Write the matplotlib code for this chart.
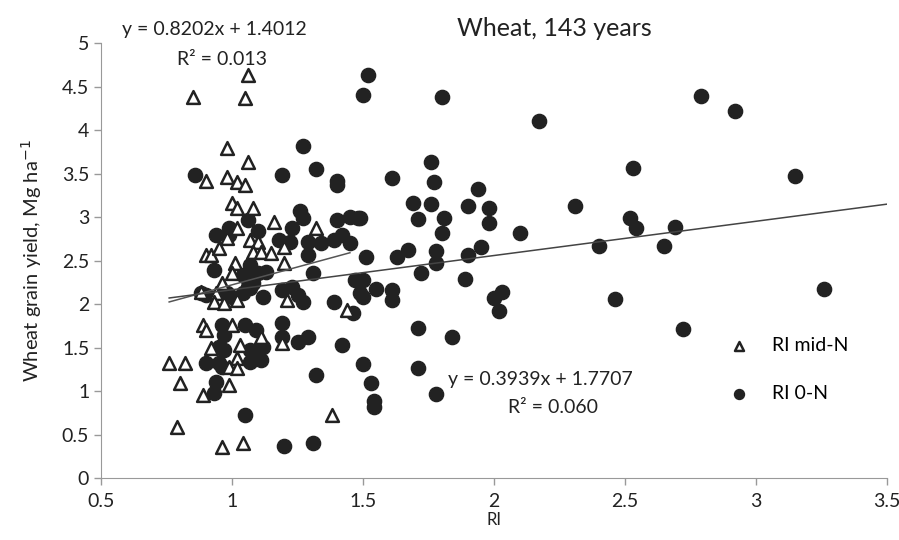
import matplotlib
matplotlib.use("Agg")
import matplotlib.pyplot as plt

plt.rcParams['font.family'] = ['Lato', 'DejaVu Sans']

# RI mid-N (open triangles)
mid_x = [1.06, 0.85, 1.05, 0.98, 1.06, 0.90, 0.98, 1.02, 1.05, 1.00, 1.02, 1.08,
         1.16, 1.02, 1.32, 0.98, 1.07, 1.10, 1.20, 0.90, 0.92, 0.95, 1.08, 1.11,
         1.15, 1.20, 1.01, 1.00, 0.96, 0.88, 0.94, 0.93, 0.97, 1.02, 1.21, 1.44,
         0.89, 0.90, 1.00, 0.92, 1.03, 1.11, 1.19, 0.76, 0.82, 1.02, 0.99, 1.02,
         0.80, 0.99, 0.89, 0.79, 0.96, 1.04, 1.38]
mid_y = [4.63, 4.38, 4.37, 3.80, 3.63, 3.41, 3.46, 3.40, 3.37, 3.16, 3.11, 3.11,
         2.94, 2.87, 2.87, 2.76, 2.74, 2.71, 2.66, 2.56, 2.56, 2.64, 2.60, 2.60,
         2.59, 2.47, 2.47, 2.36, 2.24, 2.14, 2.13, 2.02, 2.01, 2.05, 2.05, 1.93,
         1.76, 1.70, 1.76, 1.49, 1.53, 1.62, 1.55, 1.32, 1.32, 1.38, 1.28, 1.26,
         1.09, 1.07, 0.95, 0.59, 0.36, 0.40, 0.72]

# RI 0-N (filled circles)
zero_x = [2.79, 2.92, 2.53, 3.15, 2.31, 2.52, 2.54, 2.69, 2.40, 2.65, 2.46, 3.26,
          2.72, 1.52, 1.50, 1.80, 2.17, 1.76, 1.61, 1.77, 1.94, 1.69, 1.76, 1.90,
          1.98, 1.49, 1.71, 1.81, 1.98, 1.80, 2.10, 1.67, 1.63, 1.51, 1.78, 1.78,
          1.90, 1.95, 1.72, 1.89, 1.50, 1.55, 1.50, 1.61, 1.61, 2.03, 2.00, 2.02,
          1.71, 1.84, 1.50, 1.71, 1.53, 1.78, 1.54, 1.54,
          1.27, 0.86, 1.19, 1.32, 1.40, 1.40, 1.26, 1.27, 1.40, 1.45, 1.48, 0.94,
          0.99, 0.99, 1.10, 1.06, 1.23, 1.18, 1.22, 1.29, 1.34, 1.39, 1.42, 1.45,
          1.29, 0.93, 1.04, 1.07, 1.10, 1.13, 1.31, 1.06, 1.08, 1.06, 0.88, 0.90,
          0.98, 1.00, 1.04, 1.07, 1.12, 1.19, 1.23, 1.25, 1.27, 1.39, 1.47, 1.49,
          1.46, 0.96, 0.97, 1.05, 1.09, 1.19, 1.19, 1.25, 1.29, 1.42, 0.95, 0.97,
          1.07, 1.10, 1.12, 0.90, 0.95, 0.96, 1.07, 1.11, 0.94, 0.93, 1.32, 1.05,
          1.20, 1.31]
zero_y = [4.39, 4.22, 3.56, 3.47, 3.13, 2.99, 2.87, 2.89, 2.67, 2.67, 2.06, 2.17,
          1.71, 4.63, 4.40, 4.38, 4.11, 3.63, 3.45, 3.40, 3.32, 3.16, 3.15, 3.13,
          3.11, 2.99, 2.98, 2.99, 2.93, 2.82, 2.82, 2.62, 2.54, 2.54, 2.61, 2.47,
          2.56, 2.66, 2.36, 2.29, 2.28, 2.17, 2.08, 2.16, 2.05, 2.14, 2.07, 1.92,
          1.72, 1.62, 1.31, 1.27, 1.09, 0.97, 0.89, 0.82,
          3.82, 3.49, 3.49, 3.55, 3.42, 3.37, 3.07, 2.99, 2.97, 3.00, 2.99, 2.79,
          2.88, 2.79, 2.84, 2.97, 2.87, 2.74, 2.71, 2.71, 2.70, 2.74, 2.79, 2.70,
          2.56, 2.39, 2.33, 2.45, 2.36, 2.37, 2.36, 2.28, 2.24, 2.20, 2.13, 2.10,
          2.13, 2.08, 2.13, 2.18, 2.08, 2.16, 2.20, 2.10, 2.02, 2.02, 2.28, 2.13,
          1.90, 1.76, 1.64, 1.76, 1.70, 1.78, 1.62, 1.56, 1.62, 1.53, 1.51, 1.47,
          1.47, 1.39, 1.51, 1.32, 1.32, 1.28, 1.33, 1.36, 1.10, 0.98, 1.18, 0.72,
          0.37, 0.40]

# trendline equations shown on the chart
mid_fit = (0.8202, 1.4012)
zero_fit = (0.3939, 1.7707)
mid_line_x = [0.76, 1.45]
zero_line_x = [0.76, 3.5]

fig = plt.figure(figsize=(8.99, 5.40), dpi=100)
ax = fig.add_axes([0.1124, 0.1148, 0.8743, 0.8052])

ax.scatter(zero_x, zero_y, s=105, marker='o', color='#222222', zorder=3,
           label='RI 0-N')
ax.scatter(mid_x, mid_y, s=85, marker='^', facecolor='white', edgecolor='#222222',
           linewidth=1.8, zorder=4, label='RI mid-N')

ax.plot(mid_line_x, [mid_fit[0] * v + mid_fit[1] for v in mid_line_x],
        color='#555555', lw=1.1, zorder=5)
ax.plot(zero_line_x, [zero_fit[0] * v + zero_fit[1] for v in zero_line_x],
        color='#444444', lw=1.1, zorder=5)

ax.set_xlim(0.5, 3.5)
ax.set_ylim(0, 5)
ax.set_xticks([0.5, 1, 1.5, 2, 2.5, 3, 3.5])
ax.set_xticklabels(['0.5', '1', '1.5', '2', '2.5', '3', '3.5'])
ax.set_yticks([0, 0.5, 1, 1.5, 2, 2.5, 3, 3.5, 4, 4.5, 5])
ax.set_yticklabels(['0', '0.5', '1', '1.5', '2', '2.5', '3', '3.5', '4', '4.5', '5'])
for side in ['top', 'right']:
    ax.spines[side].set_visible(False)
for side in ['left', 'bottom']:
    ax.spines[side].set_color('#999999')
ax.tick_params(colors='#999999', labelcolor='#222222', labelsize=14, length=5,
               width=1)
ax.tick_params(axis='x', pad=6)

ax.set_xlabel('RI', fontsize=12, color='#222222', labelpad=1)
ax.set_ylabel('Wheat grain yield, Mg ha$^{-1}$', fontsize=14.5, color='#222222',
              labelpad=13)

fig.text(0.617, 0.948, 'Wheat, 143 years', fontsize=18, ha='center', va='center',
         color='#222222')
fig.text(0.239, 0.946, 'y = 0.8202x + 1.4012', fontsize=14, ha='center',
         va='center', color='#222222')
fig.text(0.247, 0.889, 'R² = 0.013', fontsize=14, ha='center', va='center',
         color='#222222')
fig.text(0.601, 0.297, 'y = 0.3939x + 1.7707', fontsize=14, ha='center',
         va='center', color='#222222')
fig.text(0.615, 0.245, 'R² = 0.060', fontsize=14, ha='center', va='center',
         color='#222222')

handles, labels = ax.get_legend_handles_labels()
leg = ax.legend(handles[::-1], labels[::-1], loc='center left',
                bbox_to_anchor=(0.765, 0.25), frameon=False, fontsize=14,
                markerscale=0.7, handletextpad=0.7, labelspacing=1.6)

fig.savefig('out.png', dpi=100)
